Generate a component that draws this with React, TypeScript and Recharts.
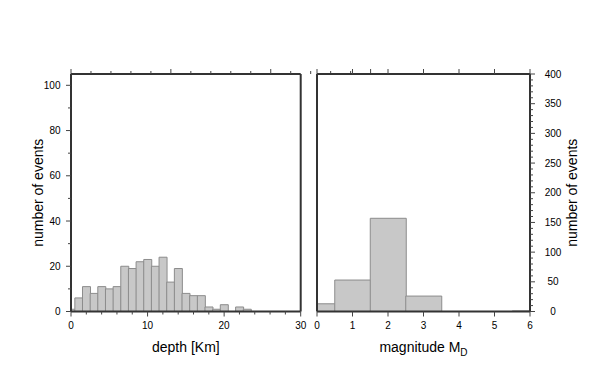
import React from 'react';
import { BarChart, Bar, XAxis, YAxis } from 'recharts';

// ---- data ----
const depthBins = [0, 1, 2, 3, 4, 5, 6, 7, 8, 9, 10, 11, 12, 13, 14, 15, 16, 17, 18, 19, 20, 21, 22, 23];
const depthCounts = [1, 6, 11, 8, 11, 10, 11, 20, 19, 22, 23, 20, 24, 13, 19, 8, 7, 7, 2, 1, 3, 0, 2, 1];

const magBins = [0, 1, 2, 3, 4, 5, 6];
const magCounts = [13, 53, 157, 26, 0, 0, 1];

// ---- ticks ----
const depthAxisTicks = [0, 1, 2, 3, 4, 5, 6, 7, 8, 9, 10, 11, 12, 13, 14, 15, 16, 17, 18, 19, 20, 21, 22, 23, 24, 25, 26, 27, 28, 29, 30];
const depthTickMarks = [0, 2, 4, 6, 8, 10, 12, 14, 16, 18, 20, 22, 24, 26, 28, 30];
const depthMajor = [0, 10, 20, 30];
const leftCountTicks = [0, 10, 20, 30, 40, 50, 60, 70, 80, 90, 100];
const leftCountMajor = [0, 20, 40, 60, 80, 100];
const magTicks = [0, 1, 2, 3, 4, 5, 6];
const rightCountTicks = [0, 10, 20, 30, 40, 50, 60, 70, 80, 90, 100, 110, 120, 130, 140, 150, 160, 170, 180, 190, 200, 210, 220, 230, 240, 250, 260, 270, 280, 290, 300, 310, 320, 330, 340, 350, 360, 370, 380, 390, 400];
const rightCountMajor = [0, 50, 100, 150, 200, 250, 300, 350, 400];

const depthData = depthBins.map((d, i) => ({ bin: d, count: depthCounts[i] }));
const magData = magBins.map((d, i) => ({ bin: d, count: magCounts[i] }));

const FONT = '"Liberation Sans", Arial, Helvetica, sans-serif';
const FRAME = { stroke: '#333', strokeWidth: 2 };
const TICK_COLOR = '#444';

type Side = 'top' | 'bottom' | 'left' | 'right';

function renderTick(side: Side, marks: number[] | null, majors: number[], labels: number[] | null) {
  return (p: any) => {
    const { x, y, payload } = p;
    const v = payload.value;
    if (marks && !marks.includes(v)) return <g />;
    const len = majors.includes(v) ? 5 : 3;
    let x2 = x;
    let y2 = y;
    if (side === 'bottom') y2 = y + len;
    if (side === 'top') y2 = y - len;
    if (side === 'left') x2 = x - len;
    if (side === 'right') x2 = x + len;
    let label = null;
    if (labels && labels.includes(v)) {
      if (side === 'bottom') {
        label = (
          <text x={x} y={y + 17.5} textAnchor="middle" fontSize={10} fontFamily={FONT} fill="#000">
            {v}
          </text>
        );
      } else if (side === 'left') {
        label = (
          <text x={x - 10.5} y={y} dy="0.36em" textAnchor="end" fontSize={10} fontFamily={FONT} fill="#000">
            {v}
          </text>
        );
      } else if (side === 'right') {
        label = (
          <text x={x + 23} y={y} dy="0.36em" textAnchor="middle" fontSize={10} fontFamily={FONT} fill="#000">
            {v}
          </text>
        );
      }
    }
    return (
      <g>
        <line x1={x} y1={y} x2={x2} y2={y2} stroke={TICK_COLOR} strokeWidth={1} />
        {label}
      </g>
    );
  };
}

const xTitle = (content: React.ReactNode) => (props: any) => {
  const vb = props.viewBox || {};
  return (
    <text x={vb.x + vb.width / 2} y={vb.y + 40.5} textAnchor="middle" fontSize={14} fontFamily={FONT} fill="#000">
      {content}
    </text>
  );
};

const yTitle = (text: string, dx: number) => (props: any) => {
  const vb = props.viewBox || {};
  const cx = vb.x + vb.width + dx;
  const cy = vb.y + vb.height / 2;
  return (
    <text x={cx} y={cy} transform={`rotate(-90, ${cx}, ${cy})`} textAnchor="middle" fontSize={14} fontFamily={FONT} fill="#000">
      {text}
    </text>
  );
};

const yTitleRight = (text: string, dx: number) => (props: any) => {
  const vb = props.viewBox || {};
  const cx = vb.x + dx;
  const cy = vb.y + vb.height / 2;
  return (
    <text x={cx} y={cy} transform={`rotate(-90, ${cx}, ${cy})`} textAnchor="middle" fontSize={14} fontFamily={FONT} fill="#000">
      {text}
    </text>
  );
};

const axisCommon = {
  interval: 0 as const,
  tickSize: 0,
  tickMargin: 0,
  tickLine: false,
  axisLine: FRAME,
};

export default function App() {
  return (
    <div style={{ position: 'absolute', left: 0, top: 0, width: 602, height: 383, background: '#fff' }}>
      <div style={{ position: 'absolute', left: 0, top: 0 }}>
        <BarChart
          width={602}
          height={383}
          data={depthData}
          margin={{ left: 70, right: 300.3, top: 73, bottom: 70.5 }}
          barCategoryGap={0}
          barGap={0}
        >
          <Bar dataKey="count" fill="#c8c8c8" stroke="#8c8c8c" strokeWidth={1} isAnimationActive={false} />
          <XAxis
            {...axisCommon}
            dataKey="bin"
            type="number"
            domain={[0, 30]}
            allowDataOverflow
            ticks={depthAxisTicks}
            tickCount={30}
            height={1}
            tick={renderTick('bottom', depthTickMarks, depthMajor, depthMajor)}
            label={{ content: xTitle('depth [Km]') }}
          />
          <XAxis
            {...axisCommon}
            xAxisId="top"
            orientation="top"
            type="number"
            domain={[0, 30]}
            ticks={depthTickMarks}
            height={1}
            tick={renderTick('top', null, depthMajor, null)}
          />
          <YAxis
            {...axisCommon}
            type="number"
            domain={[0, 105]}
            ticks={leftCountTicks}
            width={1}
            tick={renderTick('left', null, leftCountMajor, leftCountMajor)}
            label={{ content: yTitle('number of events', -28) }}
          />
          <YAxis
            {...axisCommon}
            yAxisId="r"
            orientation="right"
            type="number"
            domain={[0, 105]}
            ticks={leftCountTicks}
            width={1}
            tick={renderTick('right', null, leftCountMajor, null)}
          />
        </BarChart>
      </div>
      <div style={{ position: 'absolute', left: 0, top: 0 }}>
        <BarChart
          width={602}
          height={383}
          data={magData}
          margin={{ left: 316, right: 71, top: 73, bottom: 70.5 }}
          barCategoryGap={0}
          barGap={0}
        >
          <Bar dataKey="count" yAxisId="r" fill="#c8c8c8" stroke="#8c8c8c" strokeWidth={1} isAnimationActive={false} />
          <XAxis
            {...axisCommon}
            dataKey="bin"
            type="number"
            domain={[0, 6]}
            allowDataOverflow
            ticks={magTicks}
            tickCount={6}
            height={1}
            tick={renderTick('bottom', null, magTicks, magTicks)}
            label={{
              content: xTitle(
                <>
                  magnitude M
                  <tspan fontSize={10} dy={4}>
                    D
                  </tspan>
                </>
              ),
            }}
          />
          <XAxis
            {...axisCommon}
            xAxisId="top"
            orientation="top"
            type="number"
            domain={[0, 6]}
            ticks={magTicks}
            height={1}
            tick={renderTick('top', null, magTicks, null)}
          />
          <YAxis
            {...axisCommon}
            yAxisId="l"
            type="number"
            domain={[0, 400]}
            ticks={rightCountTicks}
            width={1}
            tick={renderTick('left', null, rightCountMajor, null)}
          />
          <YAxis
            {...axisCommon}
            yAxisId="r"
            orientation="right"
            type="number"
            domain={[0, 400]}
            ticks={rightCountTicks}
            width={1}
            tick={renderTick('right', null, rightCountMajor, rightCountMajor)}
            label={{ content: yTitleRight('number of events', 47) }}
          />
        </BarChart>
      </div>
    </div>
  );
}
